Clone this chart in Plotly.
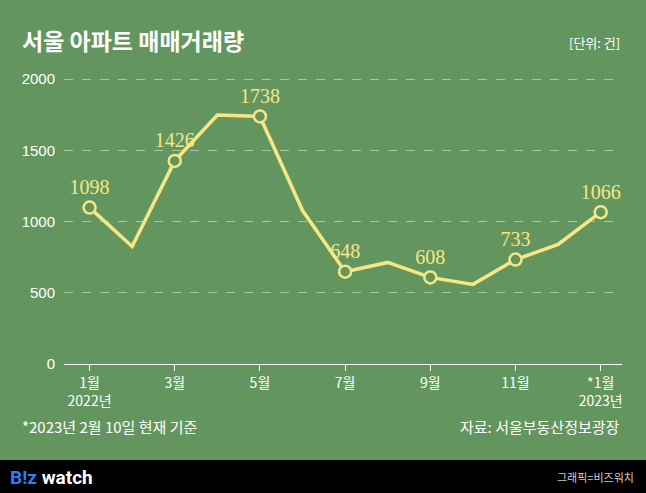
import plotly.graph_objects as go

months = ['1월<br>2022년', '2월', '3월', '4월', '5월', '6월', '7월', '8월', '9월', '10월', '11월', '12월', '*1월<br>2023년']
volume = [1098, 825, 1426, 1748, 1738, 1077, 648, 713, 608, 559, 733, 839, 1066]
labeled = [0, 2, 4, 6, 8, 10, 12]
tick_idx = [0, 2, 4, 6, 8, 10, 12]
y_ticks = [0, 500, 1000, 1500, 2000]

bg = '#63965f'
yellow = '#f7e784'
font_kr = 'Noto Sans CJK KR'
H = 292  # plot height in px

x = list(range(len(volume)))
fig = go.Figure()
fig.add_trace(go.Scatter(x=x, y=volume, mode='lines',
                         line=dict(color=yellow, width=3.5), hoverinfo='skip'))
fig.add_trace(go.Scatter(
    x=labeled, y=[volume[i] for i in labeled], mode='markers+text',
    marker=dict(size=12, color=bg, line=dict(color=yellow, width=2.5)),
    text=[str(volume[i]) for i in labeled], textposition='top center',
    textfont=dict(family='Liberation Serif', size=20, color=yellow)))

fig.update_layout(
    width=646, height=493, paper_bgcolor=bg, plot_bgcolor=bg, showlegend=False,
    margin=dict(l=64, r=24, t=72, b=129, autoexpand=False),
    xaxis=dict(range=[-0.6, 12.5], tickvals=tick_idx, ticktext=[months[i] for i in tick_idx],
               showgrid=False, zeroline=False, showline=True, linecolor='white', linewidth=1,
               ticks='outside', tickcolor='white', ticklen=6,
               tickfont=dict(family=font_kr, size=14, color='white')),
    yaxis=dict(range=[0, 2050], tickvals=y_ticks, showgrid=True, gridcolor='rgba(255,255,255,0.45)',
               griddash='dash', zeroline=False, ticks='', ticklabelstandoff=8,
               tickfont=dict(family='Liberation Sans', size=15, color='white')),
    shapes=[dict(type='rect', xref='paper', yref='paper', x0=-0.2, x1=1.1,
                 y0=-129/H, y1=-96/H, fillcolor='black', line_width=0, layer='below')],
    annotations=[
        dict(xref='paper', yref='paper', x=-44/558, y=1 + 32/H, xanchor='left', yanchor='middle',
             text='<b>서울 아파트 매매거래량</b>', showarrow=False,
             font=dict(family=font_kr, size=23, color='white')),
        dict(xref='paper', yref='paper', x=1 + 0/558, y=1 + 30/H, xanchor='right', yanchor='middle',
             text='[단위: 건]', showarrow=False, font=dict(family=font_kr, size=13, color='white')),
        dict(xref='paper', yref='paper', x=-44/558, y=-62/H, xanchor='left', yanchor='middle',
             text='*2023년 2월 10일 현재 기준', showarrow=False,
             font=dict(family=font_kr, size=15, color='white')),
        dict(xref='paper', yref='paper', x=1 + 0/558, y=-62/H, xanchor='right', yanchor='middle',
             text='자료: 서울부동산정보광장', showarrow=False,
             font=dict(family=font_kr, size=15, color='white')),
        dict(xref='paper', yref='paper', x=-56/558, y=-113/H, xanchor='left', yanchor='middle',
             text="<b><span style='color:#2f7df6'>B!z</span> watch</b>", showarrow=False,
             font=dict(family='Roboto', size=19, color='white')),
        dict(xref='paper', yref='paper', x=1 + 14/558, y=-113/H, xanchor='right', yanchor='middle',
             text='그래픽=비즈워치', showarrow=False,
             font=dict(family=font_kr, size=11, color='#cccccc')),
    ])

fig.write_html('out.html', config={'displayModeBar': False},
               post_script="document.body.style.margin='0';document.body.style.overflow='hidden';")
